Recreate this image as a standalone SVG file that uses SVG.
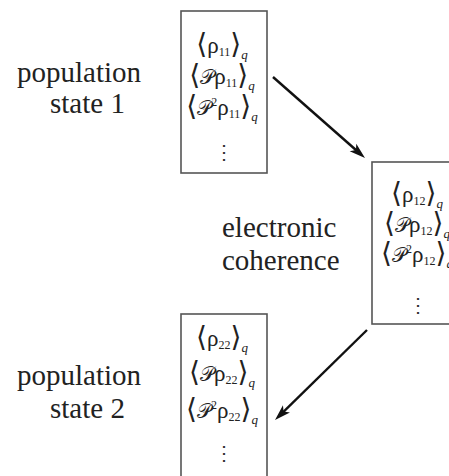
<svg xmlns="http://www.w3.org/2000/svg" width="449" height="476" viewBox="0 0 449 476">
<style>
.box{fill:#fff;stroke:#555;stroke-width:1.6}
.lbl{font-family:"Liberation Serif","Times New Roman",serif;font-size:29px;fill:#222}
.mg{font-family:"Liberation Serif","DejaVu Serif",serif}
.m{font-size:23px;fill:#222}
.br{font-size:28px}
.P{font-size:20px}
.sub{font-size:12px}
.q{font-style:italic;font-size:13px}
.dots{font-size:20px;fill:#333}
.arr{stroke:#111;stroke-width:2.4;fill:none}
</style>
<defs>
<marker id="ah" markerUnits="userSpaceOnUse" markerWidth="20" markerHeight="12" viewBox="0 0 20 12" refX="10" refY="6" orient="auto">
<path d="M0,1 L16,6 L0,11 L4,6 Z" fill="#111"/>
</marker>
</defs>
<rect width="449" height="476" fill="#fff"/>
<g id="label-pop1">
<text class="lbl" x="17" y="82">population</text>
<text class="lbl" x="50" y="113">state 1</text>
</g>
<g id="label-coh">
<text class="lbl" x="222" y="237">electronic</text>
<text class="lbl" x="222" y="270">coherence</text>
</g>
<g id="label-pop2">
<text class="lbl" x="17" y="385">population</text>
<text class="lbl" x="50" y="418">state 2</text>
</g>
<g id="box11" class="mg">
<rect class="box" x="181" y="11" width="86" height="162"/>
<text class="m" x="222" y="53" text-anchor="middle"><tspan class="br">⟨</tspan>ρ<tspan class="sub" dy="3">11</tspan><tspan class="br" dy="-3">⟩</tspan><tspan class="q" dy="6">q</tspan></text>
<text class="m" x="222" y="84" text-anchor="middle"><tspan class="br">⟨</tspan><tspan class="P">𝒫</tspan>ρ<tspan class="sub" dy="3">11</tspan><tspan class="br" dy="-3">⟩</tspan><tspan class="q" dy="6">q</tspan></text>
<text class="m" x="222" y="115" text-anchor="middle"><tspan class="br">⟨</tspan><tspan class="P">𝒫</tspan><tspan class="sub" dy="-9">2</tspan><tspan dy="9">ρ</tspan><tspan class="sub" dy="3">11</tspan><tspan class="br" dy="-3">⟩</tspan><tspan class="q" dy="6">q</tspan></text>
<text class="dots" x="224" y="159" text-anchor="middle">⋮</text>
</g>
<g id="box12" class="mg">
<rect class="box" x="372" y="162" width="90" height="162"/>
<text class="m" x="417" y="202" text-anchor="middle"><tspan class="br">⟨</tspan>ρ<tspan class="sub" dy="3">12</tspan><tspan class="br" dy="-3">⟩</tspan><tspan class="q" dy="6">q</tspan></text>
<text class="m" x="417" y="232" text-anchor="middle"><tspan class="br">⟨</tspan><tspan class="P">𝒫</tspan>ρ<tspan class="sub" dy="3">12</tspan><tspan class="br" dy="-3">⟩</tspan><tspan class="q" dy="6">q</tspan></text>
<text class="m" x="417" y="262" text-anchor="middle"><tspan class="br">⟨</tspan><tspan class="P">𝒫</tspan><tspan class="sub" dy="-9">2</tspan><tspan dy="9">ρ</tspan><tspan class="sub" dy="3">12</tspan><tspan class="br" dy="-3">⟩</tspan><tspan class="q" dy="6">q</tspan></text>
<text class="dots" x="418" y="312" text-anchor="middle">⋮</text>
</g>
<g id="box22" class="mg">
<rect class="box" x="181" y="314" width="86" height="166"/>
<text class="m" x="222" y="346" text-anchor="middle"><tspan class="br">⟨</tspan>ρ<tspan class="sub" dy="3">22</tspan><tspan class="br" dy="-3">⟩</tspan><tspan class="q" dy="6">q</tspan></text>
<text class="m" x="222" y="381" text-anchor="middle"><tspan class="br">⟨</tspan><tspan class="P">𝒫</tspan>ρ<tspan class="sub" dy="3">22</tspan><tspan class="br" dy="-3">⟩</tspan><tspan class="q" dy="6">q</tspan></text>
<text class="m" x="222" y="418" text-anchor="middle"><tspan class="br">⟨</tspan><tspan class="P">𝒫</tspan><tspan class="sub" dy="-9">2</tspan><tspan dy="9">ρ</tspan><tspan class="sub" dy="3">22</tspan><tspan class="br" dy="-3">⟩</tspan><tspan class="q" dy="6">q</tspan></text>
<text class="dots" x="224" y="460" text-anchor="middle">⋮</text>
</g>
<g id="connectors">
<line class="arr" x1="273" y1="77" x2="360.5" y2="154" marker-end="url(#ah)"/>
<line class="arr" x1="367" y1="330" x2="279.3" y2="415.8" marker-end="url(#ah)"/>
</g>
</svg>
